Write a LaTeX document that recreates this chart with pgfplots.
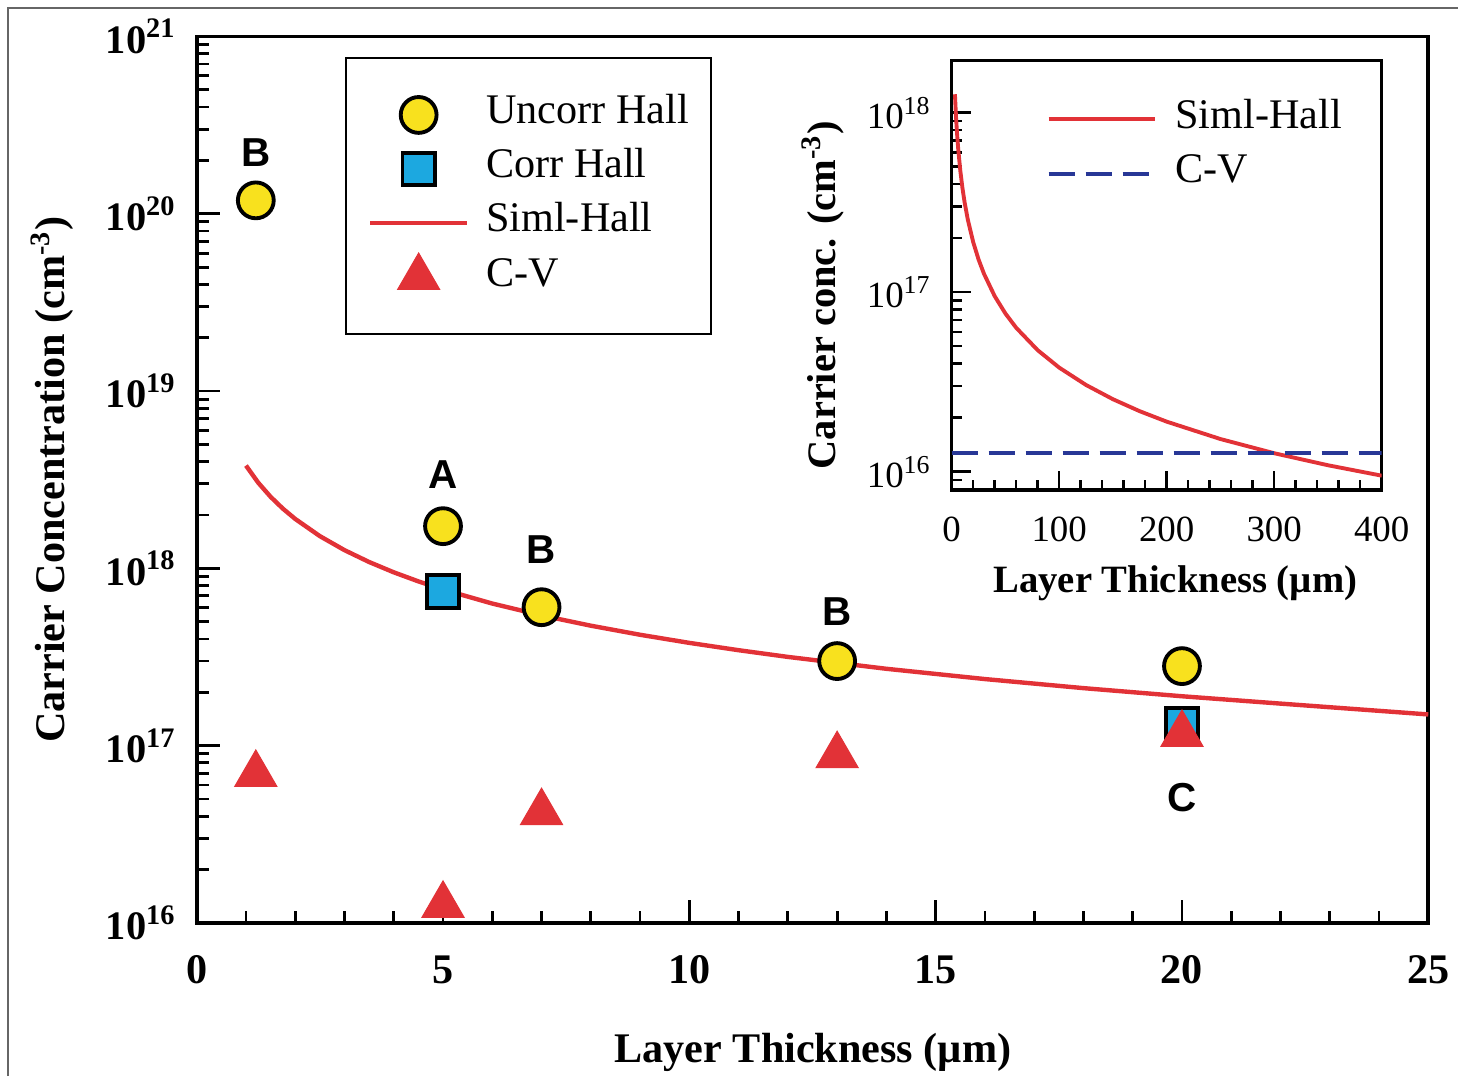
\documentclass[border=0pt]{standalone}
\usepackage{pgfplots}
\pgfplotsset{compat=1.18}
\usepackage{fontspec}
\setmainfont{Liberation Serif}
\newfontfamily\sansb{Liberation Sans}
\definecolor{myyellow}{RGB}{248,225,30}
\definecolor{myblue}{RGB}{28,168,224}
\definecolor{myred}{RGB}{226,50,55}
\definecolor{mynavy}{RGB}{40,55,150}
\newcommand{\fs}[1]{\fontsize{#1}{#1}\selectfont}
\begin{document}
\begin{tikzpicture}
\useasboundingbox (0,0) rectangle (14.58cm,10.76cm);
\fill[white] (0,0) rectangle (14.58cm,10.76cm);
\draw[black!60, line width=0.6pt] (0.08cm,0) -- (0.08cm,10.68cm) -- (14.58cm,10.68cm);

\begin{axis}[
  at={(1.967cm,1.53cm)}, anchor=south west,
  scale only axis, width=12.316cm, height=8.865cm,
  xmin=0, xmax=25, ymin=1e16, ymax=1e21, ymode=log,
  xtick={0,5,10,15,20,25},
  xticklabels={0,5,10,15,20,25},
  minor xtick={1,2,3,4,6,7,8,9,11,12,13,14,16,17,18,19,21,22,23,24},
  ytick={1e16,1e17,1e18,1e19,1e20,1e21},
  yticklabels={10\textsuperscript{16},10\textsuperscript{17},10\textsuperscript{18},10\textsuperscript{19},10\textsuperscript{20},10\textsuperscript{21}},
  minor ytick={2e16,3e16,4e16,5e16,6e16,7e16,8e16,9e16,
               2e17,3e17,4e17,5e17,6e17,7e17,8e17,9e17,
               2e18,3e18,4e18,5e18,6e18,7e18,8e18,9e18,
               2e19,3e19,4e19,5e19,6e19,7e19,8e19,9e19,
               2e20,3e20,4e20,5e20,6e20,7e20,8e20,9e20},
  tick align=inside, xtick pos=left, ytick pos=left,
  major tick length=2.3mm, minor tick length=1.2mm,
  every tick/.append style={black, line width=0.8pt},
  axis line style={black, line width=1.1pt},
  xticklabel style={font=\bfseries\fs{12}, yshift=-0.20cm},
  yticklabel style={font=\bfseries\fs{11.5}, xshift=-0.08cm},
  xlabel={Layer Thickness (µm)},
  xlabel style={font=\bfseries\fs{12}, at={(axis description cs:0.5004,-0.1455)}, anchor=center},
  ylabel={Carrier Concentration (cm\textsuperscript{-3})},
  ylabel style={font=\bfseries\fs{12}, at={(axis description cs:-0.1175,0.5)}, anchor=center},
  legend style={at={(axis description cs:0.1204,0.977)}, anchor=north west,
    draw=black, line width=0.6pt, fill=white, font=\fs{12},
    inner xsep=0.22cm, inner ysep=3.0mm, row sep=0pt, cells={anchor=west},
    nodes={inner xsep=0pt, inner ysep=0pt, text height=10.2pt, text depth=5.2pt},
    /tikz/every odd column/.style={column sep=0.17cm}},
  legend image code/.code={\draw[mark repeat=2,mark phase=2,#1] plot coordinates {(0cm,0cm)(0.485cm,0cm)(0.97cm,0cm)};},
]
\addlegendimage{only marks, mark=*, mark size=5.1pt, mark options={fill=myyellow, draw=black, line width=1.1pt}}
\addlegendentry{Uncorr Hall}
\addlegendimage{only marks, mark=square*, mark size=4.6pt, mark options={fill=myblue, draw=black, line width=1.1pt}}
\addlegendentry{Corr Hall}
\addlegendimage{myred, line width=1.2pt}
\addlegendentry{Siml-Hall}
\addlegendimage{only marks, mark=triangle*, mark size=6.9pt, mark options={fill=myred, draw=myred, line width=0.3pt}}
\addlegendentry{C-V}

\addplot[myred, line width=1.25pt, forget plot] coordinates {
(1,3.8e18) (1.25,3.04e18) (1.5,2.533e18) (1.75,2.171e18) (2,1.9e18) (2.5,1.52e18)
(3,1.267e18) (3.5,1.086e18) (4,9.5e17) (4.5,8.444e17) (5,7.6e17) (6,6.333e17)
(7,5.429e17) (8,4.75e17) (9,4.222e17) (10,3.8e17) (11,3.455e17) (12,3.167e17)
(14,2.714e17) (16,2.375e17) (18,2.111e17) (20,1.9e17) (22,1.727e17) (25,1.5e17)};

\addplot[only marks, mark=*, mark size=5.1pt, mark options={fill=myyellow, draw=black, line width=1.1pt}, forget plot] coordinates {
(1.2,1.19e20) (5,1.73e18) (7,6.04e17) (13,3.0e17) (20,2.81e17)};

\addplot[only marks, mark=square*, mark size=4.6pt, mark options={fill=myblue, draw=black, line width=1.1pt}, forget plot] coordinates {
(5,7.4e17) (20,1.32e17)};

\addplot[only marks, mark=triangle*, mark size=6.9pt, mark options={fill=myred, draw=myred, line width=0.3pt}, forget plot] coordinates {
(1.2,6.9e16) (5,1.26e16) (7,4.2e16) (13,8.8e16) (20,1.16e17)};

\node[font=\sansb\bfseries\fs{11.5}] at (axis cs:1.2,2.22e20) {B};
\node[font=\sansb\bfseries\fs{11.5}] at (axis cs:5,3.4e18) {A};
\node[font=\sansb\bfseries\fs{11.5}] at (axis cs:7,1.27e18) {B};
\node[font=\sansb\bfseries\fs{11.5}] at (axis cs:13,5.74e17) {B};
\node[font=\sansb\bfseries\fs{11.5}] at (axis cs:20,5.07e16) {C};
\end{axis}

\begin{axis}[
  at={(9.517cm,5.86cm)}, anchor=south west,
  scale only axis, width=4.30cm, height=4.293cm,
  xmin=0, xmax=400, ymin=7.91e15, ymax=1.95e18, ymode=log,
  axis background/.style={fill=white},
  xtick={0,100,200,300,400},
  xticklabels={0,100,200,300,400},
  minor xtick={20,40,60,80,120,140,160,180,220,240,260,280,320,340,360,380},
  ytick={1e16,1e17,1e18},
  yticklabels={10\textsuperscript{16},10\textsuperscript{17},10\textsuperscript{18}},
  minor ytick={8e15,9e15,2e16,3e16,4e16,5e16,6e16,7e16,8e16,9e16,
               2e17,3e17,4e17,5e17,6e17,7e17,8e17,9e17},
  tick align=inside, xtick pos=left, ytick pos=left,
  major tick length=1.9mm, minor tick length=1.0mm,
  every tick/.append style={black, line width=0.7pt},
  axis line style={black, line width=1.0pt},
  xticklabel style={font=\fs{10.5}, yshift=-0.15cm},
  yticklabel style={font=\fs{10.5}, xshift=-0.08cm},
  xlabel={Layer Thickness (µm)},
  xlabel style={font=\bfseries\fs{11}, at={(axis description cs:0.52,-0.217)}, anchor=center},
  ylabel={Carrier conc. (cm\textsuperscript{-3})},
  ylabel style={font=\bfseries\fs{11.5}, at={(axis description cs:-0.30,0.454)}, anchor=center},
  legend style={at={(axis description cs:0.219,0.902)}, anchor=north west,
    draw=none, fill=none, font=\fs{12}, inner sep=0pt, row sep=2.3mm, cells={anchor=west},
    nodes={inner sep=0pt, text height=0.7em, text depth=0.2em},
    /tikz/every odd column/.style={column sep=0.19cm}},
  legend image code/.code={\draw[#1] (0cm,0cm) -- (1.06cm,0cm);},
]
\addplot[myred, line width=1.1pt] coordinates {
(3,1.267e18) (4,9.5e17) (5,7.6e17) (6,6.333e17) (8,4.75e17) (10,3.8e17) (12,3.167e17)
(15,2.533e17) (20,1.9e17) (25,1.52e17) (30,1.267e17) (40,9.5e16) (50,7.6e16)
(60,6.333e16) (80,4.75e16) (100,3.8e16) (125,3.04e16) (150,2.533e16) (175,2.171e16)
(200,1.9e16) (250,1.52e16) (300,1.267e16) (350,1.086e16) (400,9.5e15)};
\addlegendentry{Siml-Hall}
\addplot[mynavy, line width=1.1pt, dash pattern=on 2.6mm off 1.1mm] coordinates {(0,1.27e16) (400,1.27e16)};
\addlegendentry{C-V}
\end{axis}
\end{tikzpicture}
\end{document}
